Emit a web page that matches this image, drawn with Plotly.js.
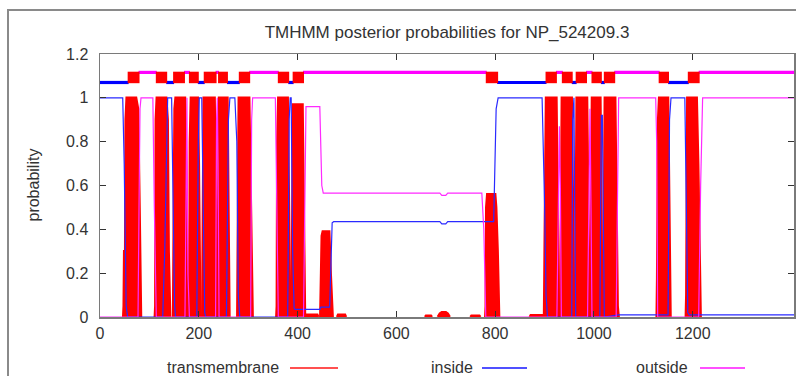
<!DOCTYPE html>
<html>
<head>
<meta charset="utf-8">
<script src="https://cdn.plot.ly/plotly-3.0.1.min.js"></script>
<style>
  html, body { margin: 0; padding: 0; background: #fff; }
  #wrap { position: relative; width: 796px; height: 376px; overflow: hidden; }
  #chart { position: absolute; left: 0; top: 0; width: 796px; height: 376px; }
  #frame { position: absolute; left: 7px; top: 9px; width: 800px; height: 380px;
           border-top: 2px solid #8a8a8a; border-left: 2px solid #8a8a8a; pointer-events: none; }
</style>
</head>
<body>
<div id="wrap"><div id="chart"></div><div id="frame"></div></div>
<script>
// ---- data (residue, probability) ----
const titleText = "TMHMM posterior probabilities for NP_524209.3";
const seqLength = 1405;
const xTicks = [0, 200, 400, 600, 800, 1000, 1200];
const yTicks = [0, 0.2, 0.4, 0.6, 0.8, 1, 1.2];
const seriesNames = ["transmembrane", "inside", "outside"];

// transmembrane posterior (null separates peaks)
const tmPoints = [
  [47,0],[48,0.05],[49,0.3],[51,0.3],[52,0.9],[54,1.0],[73,1.0],[77,0.95],[80,0.5],[82,0.1],[83,0], null,
  [111,0],[112,0.05],[113,0.9],[115,1.0],[134,1.0],[137,0.9],[139,0.3],[141,0.05],[142,0], null,
  [148,0],[149,0.3],[151,0.95],[153,1.0],[172,1.0],[175,0.6],[177,0.2],[180,0.05],[181,0], null,
  [181,0],[182,0.8],[184,1.0],[198,1.0],[200,0.7],[202,0.1],[203,0], null,
  [207,0],[208,0.3],[210,1.0],[232,1.0],[235,0.4],[237,0], null,
  [238,0],[239,0.5],[241,1.0],[258,1.0],[260,0.3],[262,0], null,
  [278,0],[279,0.4],[281,1.0],[302,1.0],[305,0.5],[308,0.05],[309,0], null,
  [357,0],[358,0.05],[359,0.8],[361,1.0],[380,1.0],[383,0.4],[385,0], null,
  [388,0],[389,0.3],[391,0.97],[410,0.97],[413,0.5],[415,0], null,
  [416,0],[418,0.01],[440,0.01],[442,0], null,
  [446,0],[447,0.25],[449,0.37],[451,0.39],[464,0.39],[467,0.2],[469,0.05],[471,0], null,
  [480,0],[482,0.01],[496,0.01],[498,0], null,
  [658,0],[660,0.006],[670,0.006],[672,0], null,
  [684,0],[688,0.015],[692,0.022],[700,0.022],[704,0.015],[708,0], null,
  [750,0],[752,0.006],[768,0.006],[770,0], null,
  [780,0],[781,0.05],[782,0.5],[784,0.56],[800,0.56],[802,0.5],[805,0.3],[807,0.05],[808,0], null,
  [870,0],[872,0.008],[897,0.008],[899,0], null,
  [899,0],[900,0.3],[901,0.75],[903,1.0],[924,1.0],[926,0.6],[928,0.1],[929,0], null,
  [932,0],[933,0.4],[935,1.0],[955,1.0],[958,0.5],[960,0], null,
  [962,0],[963,0.3],[965,1.0],[986,1.0],[989,0.4],[991,0], null,
  [993,0],[994,0.4],[996,1.0],[1013,1.0],[1015,0.5],[1017,0], null,
  [1019,0],[1020,0.4],[1022,1.0],[1043,1.0],[1046,0.3],[1048,0.05],[1050,0], null,
  [1127,0],[1128,0.18],[1130,0.9],[1132,1.0],[1150,1.0],[1152,0.6],[1154,0.05],[1155,0], null,
  [1186,0],[1187,0.1],[1189,1.0],[1208,1.0],[1211,0.7],[1214,0.3],[1216,0]
];

// inside posterior
const insidePoints = [
  [0,1.0],[46,1.0],[49,0.7],[51,0.3],[53,0.05],[56,0],[127,0],[131,0.3],[135,0.9],[137,1.0],
  [145,1.0],[148,0.5],[151,0.05],[153,0],[196,0],[199,0.8],[201,1.0],[206,1.0],[209,0.5],[212,0.02],
  [214,0],[256,0],[260,0.9],[263,1.0],[273,1.0],[277,0.8],[280,0.1],[283,0],[380,0],[383,0.9],
  [385,1.0],[387,1.0],[390,0.3],[393,0.04],[395,0.035],[445,0.035],[447,0.045],[465,0.045],[470,0.43],
  [473,0.435],[688,0.435],[692,0.425],[700,0.425],[704,0.435],[797,0.435],[802,0.95],[806,1.0],
  [895,1.0],[900,0.52],[903,0.1],[906,0],[955,0],[957,0.9],[958,1.0],[959.5,1.0],[961,0.5],[963,0],
  [1012,0],[1015,0.92],[1017,0.92],[1019,0.3],[1021,0],[1050,0.01],[1150,0.01],[1153,0.9],[1156,1.0],
  [1184,1.0],[1187,0.5],[1190,0.02],[1193,0.01],[1405,0.01]
];

// outside posterior
const outsidePoints = [
  [0,0],[77,0],[79,0.5],[81,0.95],[83,1.0],[107,1.0],[110,0.5],[112,0.1],[114,0],[172,0],
  [174,0.8],[175,1.0],[176,1.0],[177,0.5],[178,0.2],[181,0],[234,0],[236,0.9],[237.5,1.0],[239,0.7],
  [241,0],[305,0],[307,0.9],[309,1.0],[355,1.0],[358,0.5],[361,0],[412,0],[414,0.5],[417,0.96],
  [445,0.96],[449,0.6],[452,0.565],[688,0.565],[692,0.555],[700,0.555],[704,0.565],[773,0.565],
  [777,0.4],[781,0],[925,0],[928,0.6],[930,0.87],[932,0.6],[934,0],[987,0],[990,0.8],[992,0.95],
  [994,0.5],[996,0],[1045,0],[1048,0.8],[1050,1.0],[1125,1.0],[1127,0.8],[1129,0],[1212,0],
  [1216,0.6],[1220,1.0],[1405,1.0]
];

// predicted topology (top bar): [start, end] residues
const topInside  = [[0,58],[134,150],[198,212],[257,283],[381,392],[804,904],[955,965],[1014,1022],[1150,1192]];
const topOutside = [[78,115],[170,182],[234,241],[302,362],[411,783],[923,937],[984,997],[1041,1133],[1212,1405]];
const topTM      = [[56,80],[113,136],[148,172],[180,200],[210,236],[239,259],[281,304],[360,383],[390,413],
                    [781,806],[902,925],[935,957],[963,986],[995,1016],[1020,1043],[1131,1152],[1190,1214]];
const topLevels = { inside: 1.070, outside: 1.116, tm: 1.093 };

// ---- build traces ----
function pointsXY(pts) {
  const x = [], y = [];
  pts.forEach(p => { if (p === null) { x.push(null); y.push(null); } else { x.push(p[0]); y.push(p[1]); } });
  return {x, y};
}
function segXY(segs, level) {
  const x = [], y = [];
  segs.forEach(s => { x.push(s[0], s[1], null); y.push(level, level, null); });
  return {x, y};
}
const RED = "#ff0000", BLUE = "#2a2aff", PINK = "#ff2aff";
const tm = pointsXY(tmPoints), ins = pointsXY(insidePoints), outs = pointsXY(outsidePoints);
const ti = segXY(topInside, topLevels.inside), to = segXY(topOutside, topLevels.outside), tt = segXY(topTM, topLevels.tm);

const traces = [
  {x: tm.x, y: tm.y, type: "scatter", mode: "lines", name: seriesNames[0], fill: "tozeroy",
   fillcolor: RED, line: {color: RED, width: 2.5}, connectgaps: false, hoverinfo: "skip"},
  {x: ins.x, y: ins.y, type: "scatter", mode: "lines", name: seriesNames[1],
   line: {color: BLUE, width: 1.2}, hoverinfo: "skip"},
  {x: outs.x, y: outs.y, type: "scatter", mode: "lines", name: seriesNames[2],
   line: {color: PINK, width: 1.2}, hoverinfo: "skip"},
  {x: ti.x, y: ti.y, type: "scatter", mode: "lines", line: {color: "#0000ff", width: 3.2}, showlegend: false, hoverinfo: "skip"},
  {x: to.x, y: to.y, type: "scatter", mode: "lines", line: {color: "#ff00ff", width: 3.2}, showlegend: false, hoverinfo: "skip"},
  {x: tt.x, y: tt.y, type: "scatter", mode: "lines", line: {color: RED, width: 11.5}, showlegend: false, hoverinfo: "skip"}
];

// ---- layout ----
const FONT = "Liberation Sans, Arial, Helvetica, sans-serif";
const L = 100, R = 2, T = 54, B = 59, W = 796, H = 376;
const pw = W - L - R, ph = H - T - B;
function px2paperX(px) { return (px - L) / pw; }
function px2paperY(py) { return (H - B - py) / ph; }

const legendItems = [
  {name: seriesNames[0], color: "#ff5050", textRight: 281, x0: 290, x1: 338},
  {name: seriesNames[1], color: "#5050ff", textRight: 475, x0: 482, x1: 527},
  {name: seriesNames[2], color: "#ff50ff", textRight: 690, x0: 700, x1: 745}
];
const legY = 367;
const annotations = legendItems.map(it => ({
  text: it.name, xref: "paper", yref: "paper", x: px2paperX(it.textRight), y: px2paperY(legY),
  xanchor: "right", yanchor: "middle", showarrow: false, font: {family: FONT, size: 16, color: "#333"}
}));
annotations.push({
  text: "probability", xref: "paper", yref: "paper", x: px2paperX(33), y: 0.5, textangle: -90,
  xanchor: "center", yanchor: "middle", showarrow: false, font: {family: FONT, size: 16, color: "#333"}
});
const shapes = legendItems.map(it => ({
  type: "line", xref: "paper", yref: "paper", x0: px2paperX(it.x0), x1: px2paperX(it.x1),
  y0: px2paperY(legY + 1), y1: px2paperY(legY + 1), line: {color: it.color, width: 2}
}));

const layout = {
  width: W, height: H,
  margin: {l: L, r: R, t: T, b: B, pad: 0},
  paper_bgcolor: "#fff", plot_bgcolor: "#fff",
  showlegend: false,
  font: {family: FONT, size: 16, color: "#333"},
  title: {text: titleText, x: 0.5, xref: "paper", y: 1 - 32 / H, yref: "container",
          xanchor: "center", yanchor: "middle", font: {family: FONT, size: 17, color: "#333"}},
  xaxis: {range: [0, seqLength], tickvals: xTicks, ticktext: xTicks.map(String), showgrid: false, zeroline: false,
          showline: true, mirror: "ticks", linecolor: "#7a7a7a", linewidth: 1.5,
          ticks: "inside", ticklen: 6, tickcolor: "#333", tickwidth: 1, ticklabelstandoff: 1,
          tickfont: {family: FONT, size: 16, color: "#333"}},
  yaxis: {range: [0, 1.2], tickvals: yTicks, ticktext: yTicks.map(v => String(v)), showgrid: false, zeroline: false,
          showline: true, mirror: "ticks", linecolor: "#7a7a7a", linewidth: 1.5,
          ticks: "inside", ticklen: 6, tickcolor: "#333", tickwidth: 1, ticklabelstandoff: 7,
          tickfont: {family: FONT, size: 16, color: "#333"}},
  annotations: annotations,
  shapes: shapes
};

Plotly.newPlot("chart", traces, layout, {staticPlot: true, displayModeBar: false});
</script>
</body>
</html>
